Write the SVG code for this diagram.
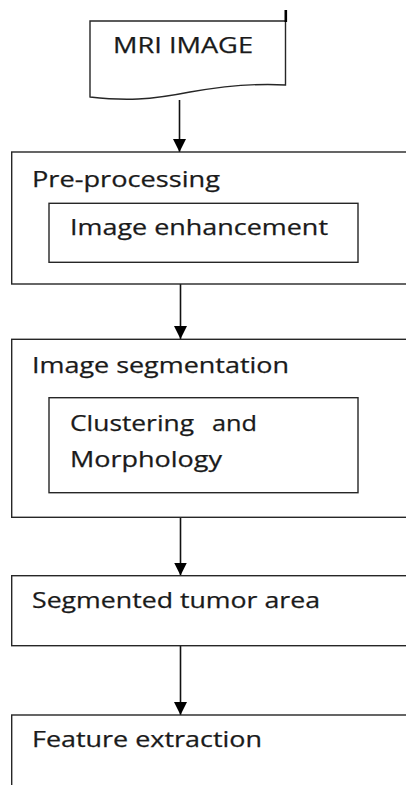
<svg xmlns="http://www.w3.org/2000/svg" width="406" height="785" viewBox="0 0 406 785">
<style>
.box{fill:#fff;stroke:#262626;stroke-width:1.4}
.t{font-family:"Open Sans","Liberation Sans",sans-serif;font-size:22px;fill:#1a1a1a;stroke:#1a1a1a;stroke-width:0.25}
.c{stroke:#111;stroke-width:1.6;fill:none;marker-end:url(#ah)}
</style>
<defs>
<marker id="ah" markerUnits="userSpaceOnUse" markerWidth="13" markerHeight="13" refX="13" refY="6.5" orient="auto">
<path d="M0,0 L13,6.5 L0,13 Z" fill="#000"/>
</marker>
</defs>
<rect width="406" height="785" fill="#fff"/>
<g id="connectors">
<line class="c" x1="179.5" y1="100" x2="179.5" y2="152"/>
<line class="c" x1="180.5" y1="284" x2="180.5" y2="339"/>
<line class="c" x1="180.5" y1="517" x2="180.5" y2="575.5"/>
<line class="c" x1="180.5" y1="646" x2="180.5" y2="715"/>
</g>
<g id="mri-image">
<path class="box" d="M90,21 H285.5 V85 C255,83 225,86 190,92 C150,100 125,101 90,97 Z"/>
<rect x="284.5" y="10" width="2.6" height="12" fill="#000"/>
<text class="t" x="113" y="53" textLength="140" lengthAdjust="spacingAndGlyphs">MRI IMAGE</text>
</g>
<g id="pre-processing">
<rect class="box" x="11.7" y="152" width="420" height="132"/>
<text class="t" x="32" y="186.5" textLength="188" lengthAdjust="spacingAndGlyphs">Pre-processing</text>
</g>
<g id="image-enhancement">
<rect class="box" x="49" y="203.3" width="309" height="59"/>
<text class="t" x="70" y="235" textLength="258" lengthAdjust="spacingAndGlyphs">Image enhancement</text>
</g>
<g id="image-segmentation">
<rect class="box" x="11.7" y="339.3" width="420" height="178"/>
<text class="t" x="32" y="372.5" textLength="257" lengthAdjust="spacingAndGlyphs">Image segmentation</text>
</g>
<g id="clustering-morphology">
<rect class="box" x="49" y="397.7" width="309" height="95"/>
<text class="t" y="430.5" xml:space="preserve"><tspan x="70" textLength="124" lengthAdjust="spacingAndGlyphs">Clustering</tspan><tspan x="212" textLength="45" lengthAdjust="spacingAndGlyphs">and</tspan></text>
<text class="t" x="70" y="467" textLength="152" lengthAdjust="spacingAndGlyphs">Morphology</text>
</g>
<g id="segmented-tumor-area">
<rect class="box" x="11.7" y="575.7" width="420" height="70"/>
<text class="t" x="32" y="608.3" textLength="288" lengthAdjust="spacingAndGlyphs">Segmented tumor area</text>
</g>
<g id="feature-extraction">
<rect class="box" x="11.7" y="715" width="420" height="90"/>
<text class="t" x="32" y="746.5" textLength="230" lengthAdjust="spacingAndGlyphs">Feature extraction</text>
</g>
</svg>
